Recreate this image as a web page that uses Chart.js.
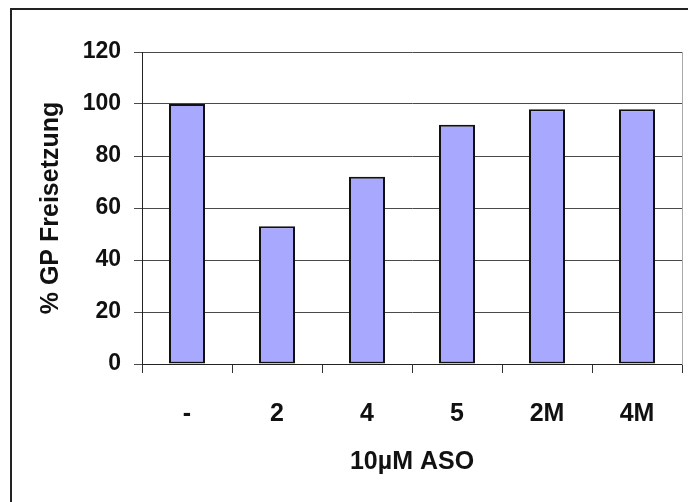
<!DOCTYPE html>
<html>
<head>
<meta charset="utf-8">
<script src="https://cdn.jsdelivr.net/npm/chart.js@4/dist/chart.umd.min.js"></script>
<style>
  html, body { margin: 0; padding: 0; background: #fff; }
  #wrap { position: relative; width: 688px; height: 502px; overflow: hidden; }
  #frame { position: absolute; left: 10px; top: 8px; width: 700px; height: 520px;
           border: 2px solid #222; pointer-events: none; box-sizing: border-box; }
  canvas { display: block; }
</style>
</head>
<body>
<div id="wrap">
  <canvas id="c" width="688" height="502"></canvas>
  <div id="frame"></div>
</div>
<script>
// ASO treatments and the GP release measured for each
const categories = ['-', '2', '4', '5', '2M', '4M'];
const release = [100, 53, 72, 92, 98, 98];
const yTicks = [0, 20, 40, 60, 80, 100, 120];

const FAMILY = '"Liberation Sans", Arial, sans-serif';
const TICK_FONT = { family: FAMILY, size: 23, weight: 'bold' };
const BIG_FONT = { family: FAMILY, size: 25, weight: 'bold' };

new Chart(document.getElementById('c'), {
  type: 'bar',
  data: {
    labels: categories,
    datasets: [{
      data: release,
      backgroundColor: '#a8a8ff',
      borderColor: '#111',
      borderWidth: 2,
      borderSkipped: false,
      categoryPercentage: 1,
      barPercentage: 0.4
    }]
  },
  options: {
    responsive: false,
    animation: false,
    layout: { padding: { top: 52, right: 6, left: 0, bottom: 0 } },
    plugins: { legend: { display: false }, tooltip: { enabled: false } },
    scales: {
      x: {
        offset: true,
        grid: { offset: true, drawOnChartArea: false, drawTicks: true, tickLength: 9, color: '#333', lineWidth: 1 },
        border: { color: '#222', width: 1 },
        ticks: { color: '#111', font: BIG_FONT, padding: 26, maxRotation: 0 },
        title: { display: true, text: '10µM ASO', color: '#111', font: BIG_FONT, padding: { top: 0, bottom: 25 } },
        afterFit: s => { s.height = 138; }
      },
      y: {
        min: 0, max: 120,
        afterBuildTicks: s => { s.ticks = yTicks.map(v => ({ value: v })); },
        grid: { color: '#4a4a4a', lineWidth: 1, tickLength: 8 },
        border: { color: '#222', width: 1 },
        ticks: { color: '#111', font: TICK_FONT, padding: 13 },
        title: { display: true, text: '% GP Freisetzung', color: '#111', font: BIG_FONT, padding: { top: 36, bottom: 0 } },
        afterFit: s => { s.width = 142; }
      },
      yRight: {
        position: 'right',
        min: 0, max: 120,
        grid: { display: false },
        ticks: { display: false },
        border: { color: '#aaa', width: 1 },
        afterFit: s => { s.width = 0; }
      }
    }
  }
});
</script>
</body>
</html>
